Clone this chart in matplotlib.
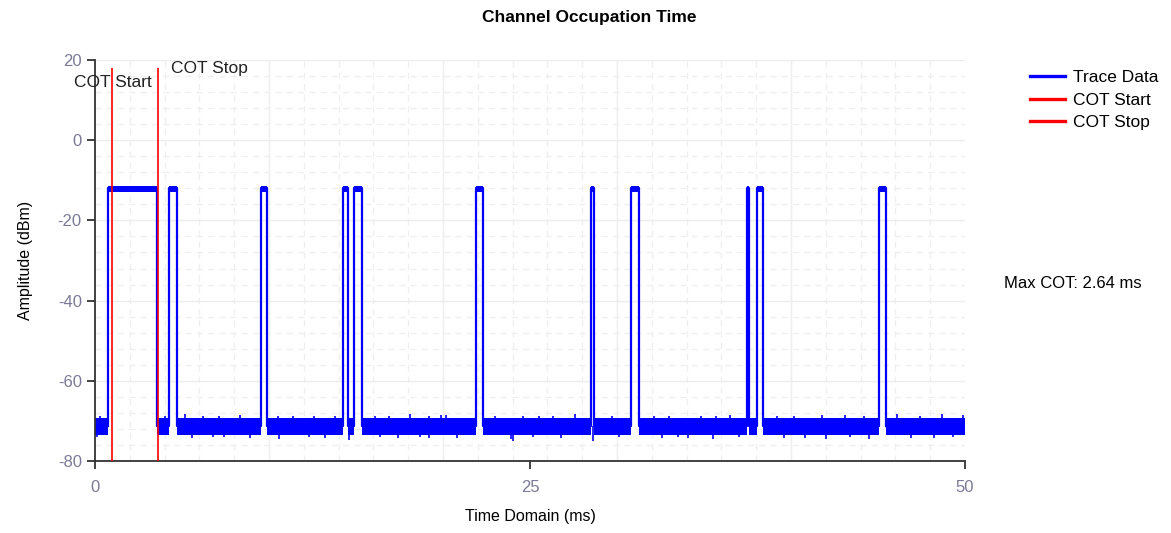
import numpy as np
import matplotlib
matplotlib.use("Agg")
import matplotlib.pyplot as plt
from matplotlib.ticker import MultipleLocator

plt.rcParams['font.family'] = ['Liberation Sans', 'DejaVu Sans']
plt.rcParams['axes.unicode_minus'] = False

# Pulse edges (ms)
pulse_start = [0.77, 4.26, 9.52, 14.27, 14.90, 21.88, 28.50, 30.82, 37.45, 38.07, 45.06]
pulse_stop = [3.55, 4.70, 9.87, 14.56, 15.33, 22.32, 28.66, 31.24, 37.60, 38.41, 45.46]

# Levels (dBm)
pulse_level = -12.0
pulse_top = [-11.3, -13.0]          # noise band on top of each burst
floor_level = -71.3
floor_band = [-69.3, -73.5]         # noise band of the floor

# Visible noise spikes on the floor (ms, dBm)
spike_up_t = [0.3, 4.0, 5.17, 6.2, 7.1, 8.33, 10.5, 11.4, 12.6, 13.8, 16.1, 16.9, 18.1, 19.2,
              19.9, 20.2, 23.0, 24.6, 25.5, 26.3, 27.6, 29.7, 32.1, 33.0, 34.8, 35.7, 36.5,
              39.2, 40.2, 41.8, 43.1, 44.2, 46.1, 47.4, 48.7, 49.9]
spike_up_v = [-68.8, -68.9, -68.4, -68.9, -68.9, -68.6, -68.8, -68.9, -68.7, -68.7, -68.9, -68.8,
              -68.3, -68.8, -68.5, -68.6, -68.8, -68.9, -68.7, -68.7, -68.3, -68.9, -68.8, -68.8,
              -68.7, -68.9, -68.5, -68.9, -68.8, -68.6, -68.6, -68.8, -68.3, -68.8, -68.4, -68.5]
spike_dn_t = [0.1, 5.6, 6.8, 7.4, 8.9, 10.6, 12.3, 13.2, 14.6, 16.4, 17.4, 18.7, 19.2, 20.8,
              23.9, 24.0, 25.2, 26.8, 28.6, 30.1, 32.6, 33.5, 34.1, 35.5, 37.0, 39.6, 40.8,
              42.0, 43.4, 44.5, 46.9, 48.2, 49.3]
spike_dn_v = [-74.0, -74.3, -74.1, -74.0, -74.2, -74.4, -74.1, -74.2, -74.8, -74.1, -74.2, -74.1,
              -74.3, -74.2, -74.6, -74.9, -74.1, -74.2, -75.0, -74.1, -74.3, -74.1, -74.2, -74.5,
              -74.1, -74.3, -74.2, -74.4, -74.1, -74.6, -74.3, -74.2, -74.1]

cot_start = 1.00
cot_stop = 3.64
max_cot = 2.64

x_ticks = [0, 25, 50]
y_ticks = [20, 0, -20, -40, -60, -80]

blue = '#0000ff'
red = '#ff0000'
tick_grey = '#7a7a96'

fig = plt.figure(figsize=(11.71, 5.33), dpi=100)
ax = fig.add_axes([95 / 1171, 72 / 533, 870 / 1171, 401 / 533])

# floor noise band between bursts
edges = [0.0] + [v for pair in zip(pulse_start, pulse_stop) for v in pair] + [50.0]
for a, b in zip(edges[0::2], edges[1::2]):
    ax.fill_between([a, b], floor_band[1], floor_band[0], color=blue, lw=0)
ax.vlines(spike_up_t, floor_level, spike_up_v, color=blue, lw=1.2)
ax.vlines(spike_dn_t, spike_dn_v, floor_level, color=blue, lw=1.2)

# bursts: rising edge, noisy top, falling edge
tx, ty = [], []
for s, e in zip(pulse_start, pulse_stop):
    tx += [s, s, e, e]
    ty += [floor_level, pulse_level, pulse_level, floor_level]
    ax.fill_between([s, e], pulse_top[1], pulse_top[0], color=blue, lw=0)
ax.plot(tx, ty, color=blue, lw=1.6, label='Trace Data')

# COT markers
ax.vlines(cot_start, -80, 18, color=red, lw=1.4, alpha=0.85, zorder=5)
ax.vlines(cot_stop, -80, 18, color=red, lw=1.4, alpha=0.85, zorder=5)
ax.text(cot_start, 14.3, 'COT Start', ha='center', va='center', fontsize=12.5, color='#222222')
ax.text(cot_stop + 0.75, 17.8, 'COT Stop', ha='left', va='center', fontsize=12.5, color='#222222')

ax.set_xlim(0, 50)
ax.set_ylim(-80, 20)
ax.set_xticks(x_ticks)
ax.set_yticks(y_ticks)
ax.xaxis.set_minor_locator(MultipleLocator(2))
ax.yaxis.set_minor_locator(MultipleLocator(4))
ax.grid(which='major', color='#ededed', lw=1.0)
ax.grid(which='minor', color='#efefef', lw=0.9, ls=(0, (5, 4)))
ax.xaxis.grid(False, which='major')
# solid vertical grid every 10 ms
for xv in range(10, 50, 10):
    ax.axvline(xv, color='#efefef', lw=1.0, zorder=0)
ax.set_axisbelow(True)

for side in ['top', 'right']:
    ax.spines[side].set_visible(False)
for side in ['left', 'bottom']:
    ax.spines[side].set_linewidth(1.3)
    ax.spines[side].set_color('#333333')
ax.tick_params(which='major', length=6, width=1.3, color='#333333', labelsize=12, labelcolor=tick_grey)
ax.tick_params(which='minor', length=0)
ax.tick_params(axis='x', pad=8)

ax.set_xlabel('Time Domain (ms)', fontsize=11.5, labelpad=10)
ax.set_ylabel('Amplitude (dBm)', fontsize=11.5, labelpad=18)

fig.text(0.503, 0.968, 'Channel Occupation Time', ha='center', va='center',
         fontsize=12.5, fontweight='bold')

# legend
h_trace = plt.Line2D([], [], color=blue, lw=2.4)
h_start = plt.Line2D([], [], color=red, lw=2.4)
h_stop = plt.Line2D([], [], color=red, lw=2.4)
fig.legend([h_trace, h_start, h_stop], ['Trace Data', 'COT Start', 'COT Stop'],
           loc='upper left', bbox_to_anchor=(1030 / 1171, 1 - 70 / 533),
           frameon=False, fontsize=12.5, borderpad=0, borderaxespad=0,
           handlelength=2.0, handletextpad=0.5, labelspacing=0.42)

fig.text(1004 / 1171, 1 - 283 / 533, 'Max COT: %.2f ms' % max_cot, ha='left', va='center',
         fontsize=12)

fig.savefig('out.png', dpi=100)
